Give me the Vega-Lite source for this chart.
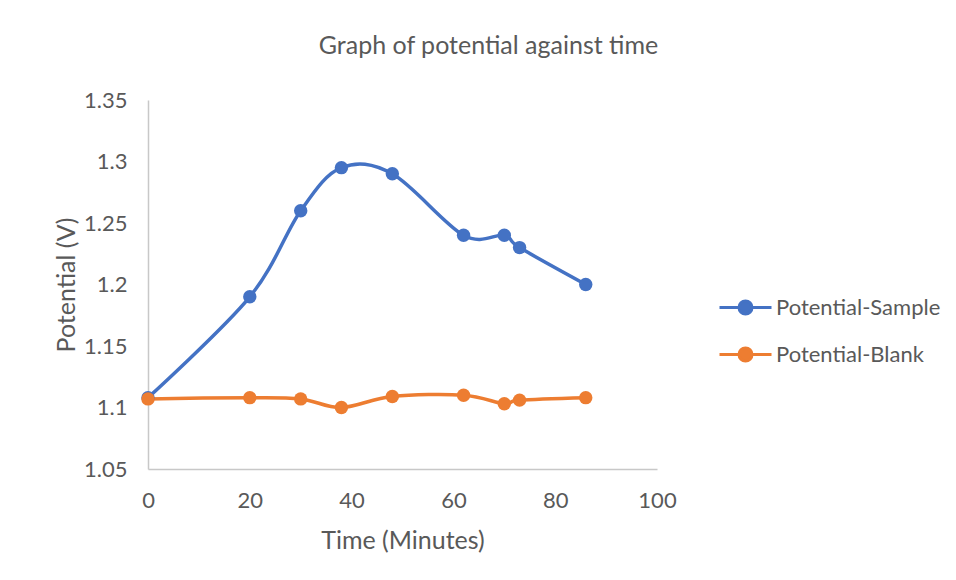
{
  "$schema": "https://vega.github.io/schema/vega-lite/v6.json",
  "width": 509,
  "height": 369,
  "autosize": "none",
  "padding": {"left": 148, "top": 100, "right": 299, "bottom": 111},
  "background": "white",
  "title": {
    "text": "Graph of potential against time",
    "fontSize": 25,
    "font": "Lato",
    "fontWeight": "normal",
    "color": "#595959",
    "anchor": "middle",
    "dx": 86,
    "offset": 30
  },
  "config": {
    "view": {"stroke": null},
    "font": "Lato",
    "axis": {
      "grid": false,
      "ticks": false,
      "domainColor": "#C8C8C8",
      "domainWidth": 1.5,
      "labelColor": "#595959",
      "labelFontSize": 22,
      "labelFlush": false,
      "titleColor": "#595959",
      "titleFontSize": 25,
      "titleFontWeight": "normal"
    }
  },
  "data": {
    "values": [
      {"time": 0, "potential": 1.108, "series": "Potential-Sample"},
      {"time": 20, "potential": 1.19, "series": "Potential-Sample"},
      {"time": 30, "potential": 1.26, "series": "Potential-Sample"},
      {"time": 38, "potential": 1.295, "series": "Potential-Sample"},
      {"time": 48, "potential": 1.29, "series": "Potential-Sample"},
      {"time": 62, "potential": 1.24, "series": "Potential-Sample"},
      {"time": 70, "potential": 1.24, "series": "Potential-Sample"},
      {"time": 73, "potential": 1.23, "series": "Potential-Sample"},
      {"time": 86, "potential": 1.2, "series": "Potential-Sample"},
      {"time": 0, "potential": 1.107, "series": "Potential-Blank"},
      {"time": 20, "potential": 1.108, "series": "Potential-Blank"},
      {"time": 30, "potential": 1.107, "series": "Potential-Blank"},
      {"time": 38, "potential": 1.1, "series": "Potential-Blank"},
      {"time": 48, "potential": 1.109, "series": "Potential-Blank"},
      {"time": 62, "potential": 1.11, "series": "Potential-Blank"},
      {"time": 70, "potential": 1.103, "series": "Potential-Blank"},
      {"time": 73, "potential": 1.106, "series": "Potential-Blank"},
      {"time": 86, "potential": 1.108, "series": "Potential-Blank"}
    ]
  },
  "mark": {
    "type": "line",
    "interpolate": "cardinal",
    "strokeWidth": 3.5,
    "point": {"filled": true, "size": 180, "opacity": 1}
  },
  "encoding": {
    "x": {
      "field": "time",
      "type": "quantitative",
      "title": "Time (Minutes)",
      "scale": {"domain": [0, 100], "nice": false},
      "axis": {"values": [0, 20, 40, 60, 80, 100], "labelPadding": 21, "titlePadding": 17}
    },
    "y": {
      "field": "potential",
      "type": "quantitative",
      "title": "Potential (V)",
      "scale": {"domain": [1.05, 1.35], "nice": false, "zero": false},
      "axis": {"values": [1.05, 1.1, 1.15, 1.2, 1.25, 1.3, 1.35], "format": "~g", "labelPadding": 21, "titlePadding": 4}
    },
    "color": {
      "field": "series",
      "type": "nominal",
      "sort": ["Potential-Sample", "Potential-Blank"],
      "scale": {"domain": ["Potential-Sample", "Potential-Blank"], "range": ["#4472C4", "#ED7D31"]},
      "legend": {
        "title": null,
        "orient": "none",
        "legendX": 583,
        "legendY": 193,
        "padding": 0,
        "symbolType": "M-2,0L2,0M-0.5,0A0.5,0.5 0 1,0 0.5,0A0.5,0.5 0 1,0 -0.5,0Z",
        "symbolSize": 676,
        "symbolStrokeWidth": 3,
        "symbolOpacity": 1,
        "labelOffset": 16,
        "labelFontSize": 22,
        "labelLimit": 400,
        "labelColor": "#595959",
        "rowPadding": 20
      }
    }
  }
}
